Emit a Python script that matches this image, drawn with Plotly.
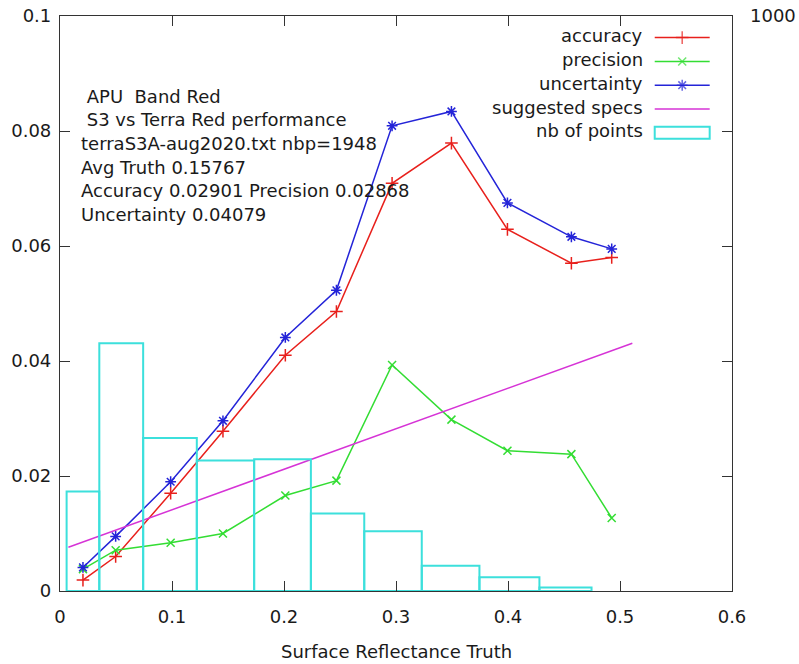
import plotly.graph_objects as go

# Bin centres (surface reflectance truth) shared by all statistics
truth = [0.0205, 0.0497, 0.0988, 0.1455, 0.2012, 0.2468, 0.2965, 0.3495, 0.3995, 0.4566, 0.4926]

accuracy = [0.0019, 0.0060, 0.0170, 0.0278, 0.0410, 0.0486, 0.0709, 0.0779, 0.0629, 0.0570, 0.0580]
precision = [0.0038, 0.0071, 0.0084, 0.0100, 0.0166, 0.0192, 0.0393, 0.0298, 0.0244, 0.0238, 0.0127]
uncertainty = [0.0041, 0.0095, 0.0190, 0.0296, 0.0441, 0.0523, 0.0809, 0.0834, 0.0675, 0.0616, 0.0595]

# Number of points per bin (right axis, 0..1000); the last bin holds none
nb_points = [173, 431, 266, 227, 229, 135, 104, 44, 24, 6]

# Suggested specification line end points
spec_x = [0.0075, 0.511]
spec_y = [0.0076, 0.0431]

info_lines = [
    "\u00a0APU\u00a0\u00a0Band Red",
    "\u00a0S3 vs Terra Red performance",
    "terraS3A-aug2020.txt nbp=1948",
    "Avg Truth 0.15767",
    "Accuracy 0.02901 Precision 0.02868",
    "Uncertainty 0.04079",
]

x_ticks = [0, 0.1, 0.2, 0.3, 0.4, 0.5, 0.6]
y_ticks = [0, 0.02, 0.04, 0.06, 0.08, 0.1]

RED = "#e8201c"
GREEN = "#33dd33"
BLUE = "#2424d8"
MAGENTA = "#d633d6"
CYAN = "#3ce0dc"
INK = "#1a1a1a"
FONT = "DejaVu Sans"
FS = 18

# Boxes touch their neighbours: each edge lies halfway to the adjacent centre
n = len(truth)
half_left, half_right = [], []
for i in range(n):
    hl = (truth[i] - truth[i - 1]) / 2 if i > 0 else (truth[1] - truth[0]) / 2
    hr = (truth[i + 1] - truth[i]) / 2 if i < n - 1 else (truth[i] - truth[i - 1]) / 2
    half_left.append(hl)
    half_right.append(hr)
nbin = len(nb_points)
widths = [a + b for a, b in zip(half_left, half_right)][:nbin]
offsets = [-a for a in half_left][:nbin]

fig = go.Figure()

fig.add_trace(go.Scatter(
    x=truth, y=accuracy, mode="lines+markers", name="accuracy",
    line=dict(color=RED, width=1.5),
    marker=dict(symbol="cross-thin", size=9, color=RED, line=dict(color=RED, width=1.5)),
))
fig.add_trace(go.Scatter(
    x=truth, y=precision, mode="lines+markers", name="precision",
    line=dict(color=GREEN, width=1.5),
    marker=dict(symbol="x-thin", size=8, color=GREEN, line=dict(color=GREEN, width=1.5)),
))
fig.add_trace(go.Scatter(
    x=truth, y=uncertainty, mode="lines+markers", name="uncertainty",
    line=dict(color=BLUE, width=1.5),
    marker=dict(symbol="asterisk", size=9, color=BLUE, line=dict(color=BLUE, width=1.5)),
))
fig.add_trace(go.Scatter(
    x=spec_x, y=spec_y, mode="lines", name="suggested specs",
    line=dict(color=MAGENTA, width=1.5),
))
fig.add_trace(go.Bar(
    x=truth[:nbin], y=nb_points, width=widths, offset=offsets, name="nb of points", yaxis="y2",
    marker=dict(color="rgba(0,0,0,0)", line=dict(color=CYAN, width=2)),
))

# Key drawn gnuplot style: label right-aligned, sample to its right
key_labels = ["accuracy", "precision", "uncertainty", "suggested specs", "nb of points"]
key_colors = [RED, GREEN, BLUE, MAGENTA, CYAN]
key_symbols = ["cross-thin", "x-thin", "asterisk", None, None]
key_sizes = [9, 8, 9, 0, 0]
key_top = 0.9624   # first row, fraction of plot height
key_step = 0.0414
text_right = 0.8705
samp_left, samp_right = 0.8850, 0.9668
samp_mid = (samp_left + samp_right) / 2

annotations = []
shapes = []
for i, (lab, col, sym, sz) in enumerate(zip(key_labels, key_colors, key_symbols, key_sizes)):
    yk = key_top - i * key_step
    annotations.append(dict(
        x=text_right, y=yk, xref="paper", yref="paper", text=lab,
        showarrow=False, xanchor="right", yanchor="middle", yshift=2,
        font=dict(family=FONT, size=FS, color=INK),
    ))
    if lab == "nb of points":
        shapes.append(dict(type="rect", xref="paper", yref="paper",
                           x0=samp_left, x1=samp_right, y0=yk - 0.0104, y1=yk + 0.0104,
                           line=dict(color=CYAN, width=2), fillcolor="rgba(0,0,0,0)"))
    else:
        fig.add_trace(go.Scatter(
            x=[samp_left, samp_mid, samp_right], y=[yk, yk, yk],
            xaxis="x3", yaxis="y3", mode="lines+markers", showlegend=False,
            line=dict(color=col, width=1.5),
            marker=dict(symbol=sym or "circle", size=[0, sz, 0],
                        color=col, line=dict(color=col, width=1.5)),
            hoverinfo="skip",
        ))

# Information block in the upper left
info_x = 0.0278
info_top = 0.8586
info_step = 0.0411
for i, line in enumerate(info_lines):
    annotations.append(dict(
        x=info_x, y=info_top - i * info_step, xref="paper", yref="paper", text=line,
        showarrow=False, xanchor="left", yanchor="middle", yshift=1,
        font=dict(family=FONT, size=FS, color=INK),
    ))

annotations.append(dict(
    x=0.5, y=-0.1045, xref="paper", yref="paper", text="Surface Reflectance Truth",
    showarrow=False, xanchor="center", yanchor="middle", yshift=0,
    font=dict(family=FONT, size=FS, color=INK),
))

axis_common = dict(
    showgrid=False, zeroline=False, showline=True, linecolor="#333333", linewidth=1.2,
    ticks="inside", ticklen=10, tickwidth=1.2, tickcolor="#333333", mirror="ticks",
    tickfont=dict(family=FONT, size=FS, color=INK), automargin=False,
)

fig.update_layout(
    width=799, height=664,
    margin=dict(l=60, r=67, t=16, b=73),
    paper_bgcolor="white", plot_bgcolor="white",
    showlegend=False, barmode="overlay",
    xaxis=dict(range=[0, 0.6], tickvals=x_ticks, ticklabelstandoff=9, **axis_common),
    yaxis=dict(range=[0, 0.1], tickvals=y_ticks, ticklabelstandoff=4, **axis_common),
    yaxis2=dict(range=[0, 1000], overlaying="y", side="right", tickvals=[1000],
                ticks="", showline=False, showgrid=False, zeroline=False, automargin=False,
                ticklabelstandoff=17, tickfont=dict(family=FONT, size=FS, color=INK)),
    xaxis3=dict(range=[0, 1], overlaying="x", visible=False),
    yaxis3=dict(range=[0, 1], overlaying="y", visible=False),
    annotations=annotations,
    shapes=shapes,
)

fig.write_html("out.html")
